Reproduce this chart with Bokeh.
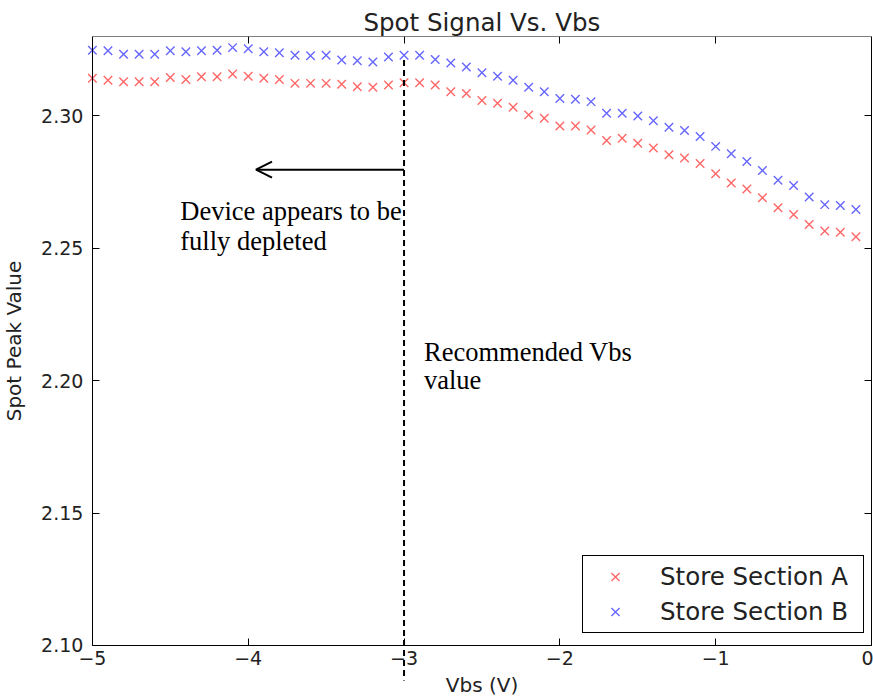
from bokeh.plotting import figure
from bokeh.models import (Range1d, LinearAxis, FixedTicker, Label, Arrow, OpenHead,
                          Legend, LegendItem, ColumnDataSource)
from bokeh.embed import file_html
from bokeh.resources import INLINE

vbs = [-5.0, -4.9, -4.8, -4.7, -4.6, -4.5, -4.4, -4.3, -4.2, -4.1,
       -4.0, -3.9, -3.8, -3.7, -3.6, -3.5, -3.4, -3.3, -3.2, -3.1,
       -3.0, -2.9, -2.8, -2.7, -2.6, -2.5, -2.4, -2.3, -2.2, -2.1,
       -2.0, -1.9, -1.8, -1.7, -1.6, -1.5, -1.4, -1.3, -1.2, -1.1,
       -1.0, -0.9, -0.8, -0.7, -0.6, -0.5, -0.4, -0.3, -0.2, -0.1]

section_a = [2.3142, 2.3135, 2.3129, 2.3129, 2.3129, 2.3145, 2.3138, 2.3148, 2.3148, 2.3158,
             2.3150, 2.3142, 2.3138, 2.3123, 2.3123, 2.3123, 2.3120, 2.3110, 2.3108, 2.3117,
             2.3125, 2.3125, 2.3117, 2.3091, 2.3085, 2.3058, 2.3048, 2.3033, 2.3004, 2.2991,
             2.2962, 2.2962, 2.2947, 2.2907, 2.2916, 2.2897, 2.2879, 2.2853, 2.2841, 2.2820,
             2.2782, 2.2747, 2.2724, 2.2691, 2.2653, 2.2628, 2.2590, 2.2565, 2.2561, 2.2544]

section_b = [2.3248, 2.3246, 2.3233, 2.3233, 2.3233, 2.3246, 2.3242, 2.3246, 2.3248, 2.3258,
             2.3254, 2.3242, 2.3239, 2.3229, 2.3227, 2.3229, 2.3211, 2.3208, 2.3204, 2.3223,
             2.3229, 2.3229, 2.3213, 2.3200, 2.3185, 2.3163, 2.3150, 2.3135, 2.3108, 2.3091,
             2.3066, 2.3063, 2.3054, 2.3010, 2.3010, 2.3000, 2.2982, 2.2957, 2.2945, 2.2922,
             2.2885, 2.2857, 2.2828, 2.2794, 2.2757, 2.2737, 2.2694, 2.2665, 2.2662, 2.2647]

x_ticks = [-5, -4, -3, -2, -1, 0]
x_tick_labels = ["\u22125", "\u22124", "\u22123", "\u22122", "\u22121", "0"]
y_ticks = [2.10, 2.15, 2.20, 2.25, 2.30]
y_tick_labels = ["2.10", "2.15", "2.20", "2.25", "2.30"]

x_min, x_max = -5.0, 0.0
y_min, y_max = 2.10, 2.33
recommended_vbs = -3.0
depleted_arrow_y = 2.2797
depleted_arrow_end = -3.95

FONT = "DejaVu Sans"
SERIF = "Liberation Serif"

# The frame fills the canvas; the axes are pinned (fixed_location) to the data box
# so that the dashed marker line can run below the x axis as in the reference.
p = figure(width=873, height=699, x_range=Range1d(-5.5897, 0.0128), y_range=Range1d(2.0796, y_max),
           output_backend="svg", toolbar_location=None, title="Spot Signal Vs. Vbs",
           x_axis_label="Vbs (V)", y_axis_label="Spot Peak Value")
p.min_border_left = 0
p.min_border_right = 0
p.min_border_top = 36
p.min_border_bottom = 0
p.background_fill_color = "white"
p.border_fill_color = "white"
p.outline_line_color = None
p.grid.visible = False

p.title.text_font = FONT
p.title.text_font_size = "24.5px"
p.title.text_font_style = "normal"
p.title.align = "left"
p.title.offset = 363
p.title.standoff = 0
p.title.text_color = "#222222"

for ax in p.xaxis:
    ax.ticker = FixedTicker(ticks=x_ticks)
    ax.major_label_overrides = {t: l for t, l in zip(x_ticks, x_tick_labels)}
    ax.fixed_location = y_min
    ax.bounds = (x_min, x_max)
for ax in p.yaxis:
    ax.ticker = FixedTicker(ticks=y_ticks)
    ax.major_label_overrides = {t: l for t, l in zip(y_ticks, y_tick_labels)}
    ax.fixed_location = x_min
    ax.bounds = (y_min, y_max)

for ax in p.xaxis + p.yaxis:
    ax.major_tick_in = 7
    ax.major_tick_out = 0
    ax.minor_tick_line_color = None
    ax.axis_line_color = "black"
    ax.major_tick_line_color = "black"
    ax.major_label_text_font = FONT
    ax.major_label_text_font_size = "19px"
    ax.major_label_text_color = "#222222"
    ax.axis_label_text_font = FONT
    ax.axis_label_text_font_size = "20px"
    ax.axis_label_text_font_style = "normal"
    ax.axis_label_text_color = "#222222"
p.xaxis.major_label_standoff = 6
p.xaxis.axis_label_standoff = 4
p.yaxis.major_label_standoff = 9
p.yaxis.axis_label_standoff = 12

top_axis = LinearAxis(ticker=FixedTicker(ticks=x_ticks), major_label_text_font_size="1px",
                      major_label_text_color=None, fixed_location=y_max, bounds=(x_min, x_max),
                      major_tick_in=7, major_tick_out=0, minor_tick_line_color=None,
                      major_label_standoff=0, axis_line_color="black")
right_axis = LinearAxis(ticker=FixedTicker(ticks=y_ticks), major_label_text_font_size="1px",
                        major_label_text_color=None, fixed_location=x_max, bounds=(y_min, y_max),
                        major_tick_in=7, major_tick_out=0, minor_tick_line_color=None,
                        major_label_standoff=0, axis_line_color="black")
p.add_layout(top_axis, "above")
p.add_layout(right_axis, "right")

src = ColumnDataSource(dict(x=vbs, a=section_a, b=section_b))
ra = p.scatter("x", "a", source=src, marker="x", size=12, line_color="red", line_alpha=0.6, line_width=1.4)
rb = p.scatter("x", "b", source=src, marker="x", size=12, line_color="blue", line_alpha=0.6, line_width=1.4)

legend = Legend(items=[LegendItem(label="Store Section A", renderers=[ra]),
                       LegendItem(label="Store Section B", renderers=[rb])],
                location=(582, 66), label_text_font=FONT, label_text_font_size="24.5px",
                label_text_color="#222222",
                border_line_color="black", border_line_width=1, border_line_alpha=1,
                glyph_width=52, glyph_height=29, label_height=29, label_width=197,
                spacing=6, padding=6, label_standoff=19, background_fill_alpha=1)
p.add_layout(legend)

# recommended Vbs dashed line (extends below the x axis)
p.add_layout(Arrow(end=None, x_start=recommended_vbs, y_start=2.3211, x_end=recommended_vbs, y_end=2.0868,
                   line_dash="6 4", line_width=2, line_color="black"))
# arrow pointing left
p.add_layout(Arrow(end=OpenHead(size=16, line_width=2, line_color="black"),
                   x_start=recommended_vbs, y_start=depleted_arrow_y,
                   x_end=depleted_arrow_end, y_end=depleted_arrow_y,
                   line_width=2, line_color="black"))

for txt, xx, yy in [("Device appears to be", -4.436, 2.2640),
                    ("fully depleted", -4.436, 2.2527),
                    ("Recommended Vbs", -2.872, 2.2108),
                    ("value", -2.872, 2.2001)]:
    p.add_layout(Label(x=xx, y=yy, text=txt, text_font=SERIF, text_font_size="26.5px",
                       text_baseline="alphabetic", text_align="left", text_color="black"))

open("out.html", "w").write(file_html(p, INLINE))
